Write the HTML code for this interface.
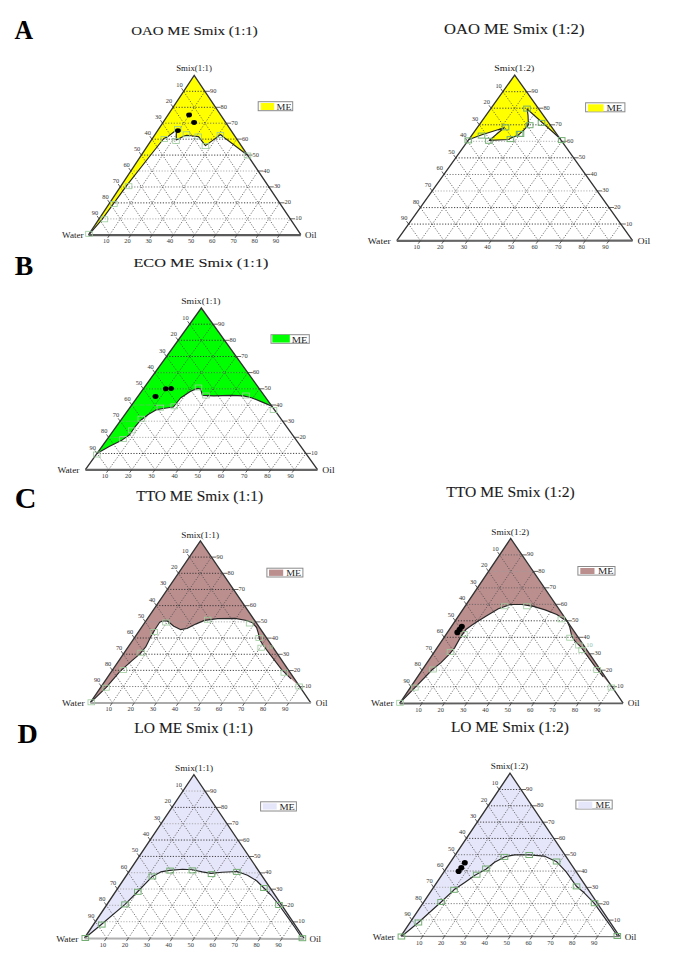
<!DOCTYPE html>
<html><head><meta charset="utf-8"><title>Ternary phase diagrams</title>
<style>
html,body{margin:0;padding:0;background:#fff;}
body{width:685px;height:965px;overflow:hidden;}
svg{display:block;}
text{font-family:"Liberation Serif",serif;fill:#1a1a1a;}
.tk{font-size:6.4px;fill:#333;}
.cl{fill:#222;}
.lg{font-size:10px;fill:#222;}
.ti{fill:#1a1a1a;stroke:#1a1a1a;stroke-width:0.12px;}
.le{font-weight:bold;fill:#000;}
</style></head>
<body>
<svg width="685" height="965" viewBox="0 0 685 965">
<rect width="685" height="965" fill="#fff"/>
<polygon points="194.2,75.4 247.3,155 224.8,138 220.4,134.5 215.1,138.6 205.5,145.6 198.5,136.6 195,136.2 191.2,135.8 186.8,135.3 184.2,136 176.3,140 176.3,131.6 175.4,130.8 167.5,136.9 163.8,138.5 150.7,155 127,185.2 112.6,204.9 102.1,219.3 89.6,233.8 88.5,234.8" fill="#ffff00" stroke="none"/>
<path d="M109.7,234.8L204.9,91.3M279.6,234.7L183.6,91.3M131,234.8L215.5,107.3M258.3,234.7L173.1,107.3M152.2,234.8L226.2,123.2M237.1,234.7L162.5,123.2M173.4,234.8L236.8,139.1M215.9,234.7L151.9,139.2M194.7,234.8L247.5,155.1M194.7,234.8L141.3,155.1M215.9,234.7L258.2,171M173.4,234.8L130.8,171M237.1,234.7L268.8,186.9M152.2,234.8L120.2,187M258.3,234.7L279.5,202.8M131,234.8L109.6,202.9M279.6,234.7L290.1,218.8M109.7,234.8L99.1,218.9" fill="none" stroke="#4a4a4a" stroke-width="0.8" stroke-dasharray="1.2 1.6"/>
<path d="M99.1,218.9L290.1,218.8M130.8,171L258.2,171" fill="none" stroke="#9a9a9a" stroke-width="0.8" stroke-dasharray="1.2 1.6"/>
<path d="M120.2,187L268.8,186.9M162.5,123.2L226.2,123.2" fill="none" stroke="#5c5c5c" stroke-width="0.8" stroke-dasharray="1.2 1.6"/>
<path d="M109.6,202.9L279.5,202.8M141.3,155.1L247.5,155.1M151.9,139.2L236.8,139.1M173.1,107.3L215.5,107.3M183.6,91.3L204.9,91.3" fill="none" stroke="#2e2e2e" stroke-width="0.9" stroke-dasharray="1.2 1.6"/>
<polyline points="247.3,155 224.8,138 220.4,134.5 215.1,138.6 205.5,145.6 198.5,136.6 195,136.2 191.2,135.8 186.8,135.3 184.2,136 176.3,140 176.3,131.6 175.4,130.8 167.5,136.9 163.8,138.5 150.7,155 127,185.2 112.6,204.9 102.1,219.3 89.6,233.8" fill="none" stroke="#262626" stroke-width="1.15" stroke-linejoin="round"/>
<path d="M88.5,234.8L194.2,75.4L300.8,234.7" fill="none" stroke="#333" stroke-width="1.35" stroke-linejoin="miter"/>
<path d="M88.5,235.2L300.8,235.1" fill="none" stroke="#5a5a5a" stroke-width="2.3"/>
<path d="M290.1,218.8L295.1,218.8M183.6,91.3L181.6,88.3M109.7,234.8L107.7,237.9M279.5,202.8L284.5,202.8M173.1,107.3L171.1,104.3M131,234.8L128.9,237.9M268.8,186.9L273.8,186.9M162.5,123.2L160.5,120.2M152.2,234.8L150.1,237.9M258.2,171L263.2,171M151.9,139.2L149.9,136.2M173.4,234.8L171.4,237.8M247.5,155.1L252.5,155.1M141.3,155.1L139.3,152.1M194.7,234.8L192.6,237.8M236.8,139.1L241.8,139.1M130.8,171L128.8,168M215.9,234.7L213.8,237.8M226.2,123.2L231.2,123.2M120.2,187L118.2,184M237.1,234.7L235.1,237.8M215.5,107.3L220.5,107.3M109.6,202.9L107.6,199.9M258.3,234.7L256.3,237.8M204.9,91.3L209.9,91.3M99.1,218.9L97.1,215.9M279.6,234.7L277.5,237.8" fill="none" stroke="#333" stroke-width="0.75"/>
<text transform="translate(295.2,220.3) scale(1,0.86)" text-anchor="start" class="tk">10</text>
<text transform="translate(179.4,87.2) scale(1,0.86)" text-anchor="middle" class="tk">10</text>
<text transform="translate(106.2,243.3) scale(1,0.86)" text-anchor="middle" class="tk">10</text>
<text transform="translate(284.6,204.3) scale(1,0.86)" text-anchor="start" class="tk">20</text>
<text transform="translate(168.9,103.2) scale(1,0.86)" text-anchor="middle" class="tk">20</text>
<text transform="translate(127.4,243.3) scale(1,0.86)" text-anchor="middle" class="tk">20</text>
<text transform="translate(273.9,188.4) scale(1,0.86)" text-anchor="start" class="tk">30</text>
<text transform="translate(158.3,119.1) scale(1,0.86)" text-anchor="middle" class="tk">30</text>
<text transform="translate(148.6,243.3) scale(1,0.86)" text-anchor="middle" class="tk">30</text>
<text transform="translate(263.3,172.5) scale(1,0.86)" text-anchor="start" class="tk">40</text>
<text transform="translate(147.7,135.1) scale(1,0.86)" text-anchor="middle" class="tk">40</text>
<text transform="translate(169.9,243.2) scale(1,0.86)" text-anchor="middle" class="tk">40</text>
<text transform="translate(252.6,156.6) scale(1,0.86)" text-anchor="start" class="tk">50</text>
<text transform="translate(137.1,151) scale(1,0.86)" text-anchor="middle" class="tk">50</text>
<text transform="translate(191.1,243.2) scale(1,0.86)" text-anchor="middle" class="tk">50</text>
<text transform="translate(241.9,140.6) scale(1,0.86)" text-anchor="start" class="tk">60</text>
<text transform="translate(126.6,166.9) scale(1,0.86)" text-anchor="middle" class="tk">60</text>
<text transform="translate(212.3,243.2) scale(1,0.86)" text-anchor="middle" class="tk">60</text>
<text transform="translate(231.3,124.7) scale(1,0.86)" text-anchor="start" class="tk">70</text>
<text transform="translate(116,182.9) scale(1,0.86)" text-anchor="middle" class="tk">70</text>
<text transform="translate(233.6,243.2) scale(1,0.86)" text-anchor="middle" class="tk">70</text>
<text transform="translate(220.6,108.8) scale(1,0.86)" text-anchor="start" class="tk">80</text>
<text transform="translate(105.4,198.8) scale(1,0.86)" text-anchor="middle" class="tk">80</text>
<text transform="translate(254.8,243.2) scale(1,0.86)" text-anchor="middle" class="tk">80</text>
<text transform="translate(210,92.8) scale(1,0.86)" text-anchor="start" class="tk">90</text>
<text transform="translate(94.9,214.8) scale(1,0.86)" text-anchor="middle" class="tk">90</text>
<text transform="translate(276,243.2) scale(1,0.86)" text-anchor="middle" class="tk">90</text>
<rect x="244.2" y="153" width="6.6" height="5" fill="none" stroke="#9ccb9c" stroke-width="0.8"/>
<rect x="217.1" y="132.4" width="6.6" height="5" fill="none" stroke="#9ccb9c" stroke-width="0.8"/>
<rect x="202.1" y="143.6" width="6.6" height="5" fill="none" stroke="#9ccb9c" stroke-width="0.8"/>
<rect x="194.9" y="134" width="6.6" height="5" fill="none" stroke="#9ccb9c" stroke-width="0.8"/>
<rect x="183.1" y="131.8" width="6.6" height="5" fill="none" stroke="#9ccb9c" stroke-width="0.8"/>
<rect x="172.7" y="138.5" width="6.6" height="5" fill="none" stroke="#9ccb9c" stroke-width="0.8"/>
<rect x="174.4" y="126.4" width="6.6" height="5" fill="none" stroke="#9ccb9c" stroke-width="0.8"/>
<rect x="161" y="136.5" width="6.6" height="5" fill="none" stroke="#9ccb9c" stroke-width="0.8"/>
<rect x="125.3" y="183.7" width="6.6" height="5" fill="none" stroke="#9ccb9c" stroke-width="0.8"/>
<rect x="110.6" y="201.4" width="6.6" height="5" fill="none" stroke="#9ccb9c" stroke-width="0.8"/>
<rect x="101.1" y="216.8" width="6.6" height="5" fill="none" stroke="#9ccb9c" stroke-width="0.8"/>
<rect x="85.7" y="231.3" width="6.6" height="5" fill="none" stroke="#9ccb9c" stroke-width="0.8"/>
<ellipse cx="177.9" cy="130.6" rx="2.9" ry="2.4" fill="#000"/>
<ellipse cx="194.1" cy="122.5" rx="2.9" ry="2.4" fill="#000"/>
<ellipse cx="189.1" cy="115" rx="2.9" ry="2.4" fill="#000"/>
<text transform="translate(62.1,238) scale(1,0.86)" class="cl" style="font-size:9.11px">Water</text>
<text transform="translate(305.1,238.1) scale(1,0.86)" class="cl" style="font-size:8.97px">Oil</text>
<text transform="translate(176.2,71.1) scale(1,0.86)" class="cl" style="font-size:8.82px">Smix(1:1)</text>
<rect x="258.2" y="101.7" width="34.5" height="9" fill="#fff" stroke="#8a8a8a" stroke-width="1"/>
<rect x="260.8" y="103" width="13.4" height="7" fill="#ffff00"/>
<text transform="translate(276.6,109.9) scale(1,0.86)" class="cl" style="font-size:9.96px">ME</text>
<polygon points="514.7,75.1 560.7,139.4 559,137.5 527.1,109 528,115.1 528.4,124.8 523.1,130.9 517.9,135.3 510,138.4 509,139.5 489.3,140.4 504.2,127.7 481.9,134.7 469,139.5" fill="#ffff00" stroke="none"/>
<path d="M420.4,240.7L526.5,91.7M609,240.6L502.9,91.7M444,240.7L538.3,108.2M585.4,240.6L491.1,108.2M467.5,240.7L550.1,124.8M561.9,240.6L479.3,124.8M491.1,240.7L561.9,141.3M538.3,240.6L467.5,141.3M514.7,240.6L573.7,157.8M514.7,240.6L455.8,157.9M538.3,240.6L585.4,174.4M491.1,240.7L444,174.5M561.9,240.6L597.2,190.9M467.5,240.7L432.2,191M585.4,240.6L609,207.5M444,240.7L420.4,207.6M609,240.6L620.8,224M420.4,240.7L408.6,224.1" fill="none" stroke="#4a4a4a" stroke-width="0.8" stroke-dasharray="1.2 1.6"/>
<path d="M432.2,191L597.2,190.9M467.5,141.3L561.9,141.3" fill="none" stroke="#9a9a9a" stroke-width="0.8" stroke-dasharray="1.2 1.6"/>
<path d="M444,174.5L585.4,174.4" fill="none" stroke="#5c5c5c" stroke-width="0.8" stroke-dasharray="1.2 1.6"/>
<path d="M408.6,224.1L620.8,224M420.4,207.6L609,207.5M455.8,157.9L573.7,157.8M479.3,124.8L550.1,124.8M491.1,108.2L538.3,108.2M502.9,91.7L526.5,91.7" fill="none" stroke="#2e2e2e" stroke-width="0.9" stroke-dasharray="1.2 1.6"/>
<polyline points="560.7,139.4 559,137.5 527.1,109 528,115.1 528.4,124.8 523.1,130.9 517.9,135.3 510,138.4 509,139.5 489.3,140.4 504.2,127.7 481.9,134.7 469,139.5" fill="none" stroke="#262626" stroke-width="1.15" stroke-linejoin="round"/>
<path d="M396.8,240.7L514.7,75.1L632.6,240.6" fill="none" stroke="#333" stroke-width="1.35" stroke-linejoin="miter"/>
<path d="M396.8,240.8L632.6,240.7" fill="none" stroke="#666" stroke-width="2.2"/>
<path d="M620.8,224L625.8,224M502.9,91.7L500.8,88.7M420.4,240.7L418.2,243.7M609,207.5L614,207.5M491.1,108.2L489,105.3M444,240.7L441.8,243.7M597.2,190.9L602.2,190.9M479.3,124.8L477.2,121.8M467.5,240.7L465.4,243.7M585.4,174.4L590.4,174.4M467.5,141.3L465.5,138.4M491.1,240.7L489,243.7M573.7,157.8L578.7,157.8M455.8,157.9L453.7,155M514.7,240.6L512.6,243.7M561.9,141.3L566.9,141.3M444,174.5L441.9,171.5M538.3,240.6L536.1,243.7M550.1,124.8L555.1,124.8M432.2,191L430.1,188.1M561.9,240.6L559.7,243.6M538.3,108.2L543.3,108.2M420.4,207.6L418.3,204.6M585.4,240.6L583.3,243.6M526.5,91.7L531.5,91.7M408.6,224.1L406.5,221.2M609,240.6L606.9,243.6" fill="none" stroke="#333" stroke-width="0.75"/>
<text transform="translate(625.9,225.5) scale(1,0.86)" text-anchor="start" class="tk">10</text>
<text transform="translate(498.6,87.6) scale(1,0.86)" text-anchor="middle" class="tk">10</text>
<text transform="translate(416.7,249.1) scale(1,0.86)" text-anchor="middle" class="tk">10</text>
<text transform="translate(614.1,209) scale(1,0.86)" text-anchor="start" class="tk">20</text>
<text transform="translate(486.8,104.2) scale(1,0.86)" text-anchor="middle" class="tk">20</text>
<text transform="translate(440.3,249.1) scale(1,0.86)" text-anchor="middle" class="tk">20</text>
<text transform="translate(602.3,192.4) scale(1,0.86)" text-anchor="start" class="tk">30</text>
<text transform="translate(475,120.7) scale(1,0.86)" text-anchor="middle" class="tk">30</text>
<text transform="translate(463.9,249.1) scale(1,0.86)" text-anchor="middle" class="tk">30</text>
<text transform="translate(590.5,175.9) scale(1,0.86)" text-anchor="start" class="tk">40</text>
<text transform="translate(463.3,137.3) scale(1,0.86)" text-anchor="middle" class="tk">40</text>
<text transform="translate(487.5,249.1) scale(1,0.86)" text-anchor="middle" class="tk">40</text>
<text transform="translate(578.8,159.3) scale(1,0.86)" text-anchor="start" class="tk">50</text>
<text transform="translate(451.5,153.9) scale(1,0.86)" text-anchor="middle" class="tk">50</text>
<text transform="translate(511.1,249.1) scale(1,0.86)" text-anchor="middle" class="tk">50</text>
<text transform="translate(567,142.8) scale(1,0.86)" text-anchor="start" class="tk">60</text>
<text transform="translate(439.7,170.4) scale(1,0.86)" text-anchor="middle" class="tk">60</text>
<text transform="translate(534.6,249.1) scale(1,0.86)" text-anchor="middle" class="tk">60</text>
<text transform="translate(555.2,126.2) scale(1,0.86)" text-anchor="start" class="tk">70</text>
<text transform="translate(427.9,187) scale(1,0.86)" text-anchor="middle" class="tk">70</text>
<text transform="translate(558.2,249) scale(1,0.86)" text-anchor="middle" class="tk">70</text>
<text transform="translate(543.4,109.7) scale(1,0.86)" text-anchor="start" class="tk">80</text>
<text transform="translate(416.1,203.5) scale(1,0.86)" text-anchor="middle" class="tk">80</text>
<text transform="translate(581.8,249) scale(1,0.86)" text-anchor="middle" class="tk">80</text>
<text transform="translate(531.6,93.2) scale(1,0.86)" text-anchor="start" class="tk">90</text>
<text transform="translate(404.3,220.1) scale(1,0.86)" text-anchor="middle" class="tk">90</text>
<text transform="translate(605.4,249) scale(1,0.86)" text-anchor="middle" class="tk">90</text>
<rect x="465" y="137.9" width="6.6" height="5" fill="none" stroke="#74ae74" stroke-width="1"/>
<rect x="478.2" y="133.1" width="6.6" height="5" fill="none" stroke="#74ae74" stroke-width="1"/>
<rect x="485.6" y="138.3" width="6.6" height="5" fill="none" stroke="#74ae74" stroke-width="1"/>
<rect x="502.2" y="124.8" width="6.6" height="5" fill="none" stroke="#74ae74" stroke-width="1"/>
<rect x="507.1" y="136.6" width="6.6" height="5" fill="none" stroke="#74ae74" stroke-width="1"/>
<rect x="516.3" y="131.3" width="6.6" height="5" fill="none" stroke="#74ae74" stroke-width="1"/>
<rect x="523.7" y="106.1" width="6.6" height="5" fill="none" stroke="#74ae74" stroke-width="1"/>
<rect x="526.4" y="122.7" width="6.6" height="5" fill="none" stroke="#74ae74" stroke-width="1"/>
<rect x="538.2" y="120.4" width="6.6" height="5" fill="none" stroke="#74ae74" stroke-width="1"/>
<rect x="517.2" y="131.5" width="6.6" height="5" fill="none" stroke="#74ae74" stroke-width="1"/>
<rect x="558.4" y="137.6" width="6.6" height="5" fill="none" stroke="#74ae74" stroke-width="1"/>
<text transform="translate(367.7,244.3) scale(1,0.86)" class="cl" style="font-size:9.74px">Water</text>
<text transform="translate(637.6,244) scale(1,0.86)" class="cl" style="font-size:9.88px">Oil</text>
<text transform="translate(494.2,71.2) scale(1,0.86)" class="cl" style="font-size:9.89px">Smix(1:2)</text>
<rect x="585.6" y="102.8" width="39.3" height="9" fill="#fff" stroke="#8a8a8a" stroke-width="1"/>
<rect x="587.9" y="104.3" width="15.6" height="7.2" fill="#ffff00"/>
<text transform="translate(606.4,111) scale(1,0.86)" class="cl" style="font-size:10.60px">ME</text>
<polygon points="201.3,308 272.5,406.5 262.9,402.4 252.3,398 243.6,395.9 231.3,395.4 213.8,395.9 202.4,395.4 200.7,389.3 198,388.4 191,391 180.5,398 173.4,407 163.2,408.5 155.9,409.9 148.6,414.3 139.9,420.9 134,428.2 129.6,434.7 122.3,439.9 109.2,446.4 96.9,453.6" fill="#00ff00" stroke="none"/>
<path d="M108.6,469.7L212.9,324.2M294.3,469.6L189.7,324.2M131.8,469.7L224.5,340.3M271.1,469.6L178.1,340.3M155,469.7L236.2,356.5M247.9,469.6L166.5,356.5M178.2,469.7L247.8,372.6M224.7,469.6L154.9,372.7M201.4,469.6L259.4,388.8M201.4,469.6L143.4,388.9M224.7,469.6L271,405M178.2,469.7L131.8,405M247.9,469.6L282.6,421.1M155,469.7L120.2,421.2M271.1,469.6L294.3,437.3M131.8,469.7L108.6,437.4M294.3,469.6L305.9,453.4M108.6,469.7L97,453.5" fill="none" stroke="#4a4a4a" stroke-width="0.8" stroke-dasharray="1.2 1.6"/>
<path d="M108.6,437.4L294.3,437.3M120.2,421.2L282.6,421.1M131.8,405L271,405" fill="none" stroke="#9a9a9a" stroke-width="0.8" stroke-dasharray="1.2 1.6"/>
<path d="M143.4,388.9L259.4,388.8M154.9,372.7L247.8,372.6" fill="none" stroke="#5c5c5c" stroke-width="0.8" stroke-dasharray="1.2 1.6"/>
<path d="M97,453.5L305.9,453.4M166.5,356.5L236.2,356.5M178.1,340.3L224.5,340.3M189.7,324.2L212.9,324.2" fill="none" stroke="#2e2e2e" stroke-width="0.9" stroke-dasharray="1.2 1.6"/>
<polyline points="272.5,406.5 262.9,402.4 252.3,398 243.6,395.9 231.3,395.4 213.8,395.9 202.4,395.4 200.7,389.3 198,388.4 191,391 180.5,398 173.4,407 163.2,408.5 155.9,409.9 148.6,414.3 139.9,420.9 134,428.2 129.6,434.7 122.3,439.9 109.2,446.4 96.9,453.6" fill="none" stroke="#262626" stroke-width="1.15" stroke-linejoin="round"/>
<path d="M85.4,469.7L201.3,308L317.5,469.6" fill="none" stroke="#333" stroke-width="1.35" stroke-linejoin="miter"/>
<path d="M85.4,469.9L317.5,469.8" fill="none" stroke="#666" stroke-width="2.3"/>
<path d="M305.9,453.4L310.9,453.4M189.7,324.2L187.6,321.2M108.6,469.7L106.5,472.7M294.3,437.3L299.3,437.3M178.1,340.3L176,337.4M131.8,469.7L129.7,472.7M282.6,421.1L287.6,421.1M166.5,356.5L164.4,353.6M155,469.7L152.9,472.7M271,405L276,405M154.9,372.7L152.8,369.8M178.2,469.7L176.1,472.7M259.4,388.8L264.4,388.8M143.4,388.9L141.2,385.9M201.4,469.6L199.3,472.7M247.8,372.6L252.8,372.6M131.8,405L129.7,402.1M224.7,469.6L222.5,472.6M236.2,356.5L241.2,356.5M120.2,421.2L118.1,418.3M247.9,469.6L245.7,472.6M224.5,340.3L229.5,340.3M108.6,437.4L106.5,434.4M271.1,469.6L268.9,472.6M212.9,324.2L217.9,324.2M97,453.5L94.9,450.6M294.3,469.6L292.1,472.6" fill="none" stroke="#333" stroke-width="0.75"/>
<text transform="translate(311,454.9) scale(1,0.86)" text-anchor="start" class="tk">10</text>
<text transform="translate(185.4,320.1) scale(1,0.86)" text-anchor="middle" class="tk">10</text>
<text transform="translate(105,478.1) scale(1,0.86)" text-anchor="middle" class="tk">10</text>
<text transform="translate(299.4,438.8) scale(1,0.86)" text-anchor="start" class="tk">20</text>
<text transform="translate(173.8,336.3) scale(1,0.86)" text-anchor="middle" class="tk">20</text>
<text transform="translate(128.2,478.1) scale(1,0.86)" text-anchor="middle" class="tk">20</text>
<text transform="translate(287.7,422.6) scale(1,0.86)" text-anchor="start" class="tk">30</text>
<text transform="translate(162.2,352.5) scale(1,0.86)" text-anchor="middle" class="tk">30</text>
<text transform="translate(151.4,478.1) scale(1,0.86)" text-anchor="middle" class="tk">30</text>
<text transform="translate(276.1,406.5) scale(1,0.86)" text-anchor="start" class="tk">40</text>
<text transform="translate(150.6,368.7) scale(1,0.86)" text-anchor="middle" class="tk">40</text>
<text transform="translate(174.6,478.1) scale(1,0.86)" text-anchor="middle" class="tk">40</text>
<text transform="translate(264.5,390.3) scale(1,0.86)" text-anchor="start" class="tk">50</text>
<text transform="translate(139,384.8) scale(1,0.86)" text-anchor="middle" class="tk">50</text>
<text transform="translate(197.8,478.1) scale(1,0.86)" text-anchor="middle" class="tk">50</text>
<text transform="translate(252.9,374.1) scale(1,0.86)" text-anchor="start" class="tk">60</text>
<text transform="translate(127.5,401) scale(1,0.86)" text-anchor="middle" class="tk">60</text>
<text transform="translate(221,478) scale(1,0.86)" text-anchor="middle" class="tk">60</text>
<text transform="translate(241.3,358) scale(1,0.86)" text-anchor="start" class="tk">70</text>
<text transform="translate(115.9,417.2) scale(1,0.86)" text-anchor="middle" class="tk">70</text>
<text transform="translate(244.2,478) scale(1,0.86)" text-anchor="middle" class="tk">70</text>
<text transform="translate(229.6,341.8) scale(1,0.86)" text-anchor="start" class="tk">80</text>
<text transform="translate(104.3,433.3) scale(1,0.86)" text-anchor="middle" class="tk">80</text>
<text transform="translate(267.4,478) scale(1,0.86)" text-anchor="middle" class="tk">80</text>
<text transform="translate(218,325.7) scale(1,0.86)" text-anchor="start" class="tk">90</text>
<text transform="translate(92.7,449.5) scale(1,0.86)" text-anchor="middle" class="tk">90</text>
<text transform="translate(290.6,478) scale(1,0.86)" text-anchor="middle" class="tk">90</text>
<rect x="93.5" y="452" width="6.6" height="5" fill="none" stroke="#9ccb9c" stroke-width="0.8"/>
<rect x="119.7" y="436.6" width="6.6" height="5" fill="none" stroke="#9ccb9c" stroke-width="0.8"/>
<rect x="128.5" y="427.9" width="6.6" height="5" fill="none" stroke="#9ccb9c" stroke-width="0.8"/>
<rect x="138" y="416.2" width="6.6" height="5" fill="none" stroke="#9ccb9c" stroke-width="0.8"/>
<rect x="157" y="405.2" width="6.6" height="5" fill="none" stroke="#9ccb9c" stroke-width="0.8"/>
<rect x="170.9" y="403.8" width="6.6" height="5" fill="none" stroke="#9ccb9c" stroke-width="0.8"/>
<rect x="195.2" y="385" width="6.6" height="5" fill="none" stroke="#9ccb9c" stroke-width="0.8"/>
<rect x="202.7" y="393" width="6.6" height="5" fill="none" stroke="#9ccb9c" stroke-width="0.8"/>
<rect x="242.7" y="393" width="6.6" height="5" fill="none" stroke="#9ccb9c" stroke-width="0.8"/>
<rect x="270.2" y="407.5" width="6.6" height="5" fill="none" stroke="#9ccb9c" stroke-width="0.8"/>
<ellipse cx="155.5" cy="396.5" rx="3" ry="2.4" fill="#000"/>
<ellipse cx="165.7" cy="388.7" rx="2.8" ry="2.5" fill="#000"/>
<ellipse cx="171.1" cy="388.5" rx="2.8" ry="2.5" fill="#000"/>
<text transform="translate(57.4,472.6) scale(1,0.86)" class="cl" style="font-size:9.36px">Water</text>
<text transform="translate(322.3,472.6) scale(1,0.86)" class="cl" style="font-size:9.63px">Oil</text>
<text transform="translate(181.2,303.6) scale(1,0.86)" class="cl" style="font-size:9.73px">Smix(1:1)</text>
<rect x="271" y="334.7" width="38.3" height="8.6" fill="#fff" stroke="#8a8a8a" stroke-width="1"/>
<rect x="272.3" y="334.8" width="17.5" height="7.7" fill="#00ff00"/>
<text transform="translate(291.8,342.5) scale(1,0.86)" class="cl" style="font-size:10.46px">ME</text>
<polygon points="200.4,540.9 299.8,686.7 291.1,678.9 281.7,669.6 270,654.4 263,645 259.5,639.2 258.4,633.4 256.6,627.5 252.5,622.8 246.7,620.5 235,618.4 217.6,618.6 204.4,620.4 195.7,624.1 186.9,628.5 180.4,629.6 173.8,626.3 167.2,620.8 162.5,621 159.7,622.3 155.1,629.3 150.4,637.5 145.7,646.9 139.9,653.9 131.7,660.9 120,671.4 106,687.7 90.8,702.3 90.3,702.7" fill="#bc8f8f" stroke="none"/>
<path d="M112.3,702.7L211.4,557.1M288.8,702.9L189.4,557.1M134.4,702.7L222.5,573.3M266.7,702.9L178.4,573.3M156.4,702.8L233.5,589.5M244.6,702.8L167.4,589.4M178.5,702.8L244.6,605.7M222.6,702.8L156.4,605.6M200.6,702.8L255.6,621.9M200.6,702.8L145.3,621.8M222.6,702.8L266.6,638.1M178.5,702.8L134.3,638M244.6,702.8L277.7,654.3M156.4,702.8L123.3,654.2M266.7,702.9L288.7,670.5M134.4,702.7L112.3,670.3M288.8,702.9L299.8,686.7M112.3,702.7L101.3,686.5" fill="none" stroke="#4a4a4a" stroke-width="0.8" stroke-dasharray="1.2 1.6"/>
<path d="M145.3,621.8L255.6,621.9" fill="none" stroke="#9a9a9a" stroke-width="0.8" stroke-dasharray="1.2 1.6"/>
<path d="M101.3,686.5L299.8,686.7" fill="none" stroke="#5c5c5c" stroke-width="0.8" stroke-dasharray="1.2 1.6"/>
<path d="M112.3,670.3L288.7,670.5M123.3,654.2L277.7,654.3M134.3,638L266.6,638.1M156.4,605.6L244.6,605.7M167.4,589.4L233.5,589.5M178.4,573.3L222.5,573.3M189.4,557.1L211.4,557.1" fill="none" stroke="#2e2e2e" stroke-width="0.9" stroke-dasharray="1.2 1.6"/>
<polyline points="291.1,678.9 281.7,669.6 270,654.4 263,645 259.5,639.2 258.4,633.4 256.6,627.5 252.5,622.8 246.7,620.5 235,618.4 217.6,618.6 204.4,620.4 195.7,624.1 186.9,628.5 180.4,629.6 173.8,626.3 167.2,620.8 162.5,621 159.7,622.3 155.1,629.3 150.4,637.5 145.7,646.9 139.9,653.9 131.7,660.9 120,671.4 106,687.7 90.8,702.3" fill="none" stroke="#262626" stroke-width="1.15" stroke-linejoin="round"/>
<path d="M90.3,702.7L200.4,540.9L310.8,702.9" fill="none" stroke="#333" stroke-width="1.35" stroke-linejoin="miter"/>
<path d="M90.3,702.9L310.8,703.1" fill="none" stroke="#aaa" stroke-width="2"/>
<path d="M299.8,686.7L304.8,686.7M189.4,557.1L187.4,554.1M112.3,702.7L110.3,705.8M288.7,670.5L293.7,670.5M178.4,573.3L176.4,570.3M134.4,702.7L132.3,705.8M277.7,654.3L282.7,654.3M167.4,589.4L165.3,586.5M156.4,702.8L154.4,705.8M266.6,638.1L271.6,638.1M156.4,605.6L154.3,602.6M178.5,702.8L176.4,705.8M255.6,621.9L260.6,621.9M145.3,621.8L143.3,618.8M200.6,702.8L198.5,705.9M244.6,605.7L249.6,605.7M134.3,638L132.3,635M222.6,702.8L220.5,705.9M233.5,589.5L238.5,589.5M123.3,654.2L121.3,651.2M244.6,702.8L242.6,705.9M222.5,573.3L227.5,573.3M112.3,670.3L110.3,667.4M266.7,702.9L264.6,705.9M211.4,557.1L216.4,557.1M101.3,686.5L99.3,683.5M288.8,702.9L286.7,705.9" fill="none" stroke="#333" stroke-width="0.75"/>
<text transform="translate(304.9,688.2) scale(1,0.86)" text-anchor="start" class="tk">10</text>
<text transform="translate(185.2,553) scale(1,0.86)" text-anchor="middle" class="tk">10</text>
<text transform="translate(108.8,711.2) scale(1,0.86)" text-anchor="middle" class="tk">10</text>
<text transform="translate(293.8,672) scale(1,0.86)" text-anchor="start" class="tk">20</text>
<text transform="translate(174.2,569.2) scale(1,0.86)" text-anchor="middle" class="tk">20</text>
<text transform="translate(130.8,711.2) scale(1,0.86)" text-anchor="middle" class="tk">20</text>
<text transform="translate(282.8,655.8) scale(1,0.86)" text-anchor="start" class="tk">30</text>
<text transform="translate(163.1,585.4) scale(1,0.86)" text-anchor="middle" class="tk">30</text>
<text transform="translate(152.9,711.2) scale(1,0.86)" text-anchor="middle" class="tk">30</text>
<text transform="translate(271.7,639.6) scale(1,0.86)" text-anchor="start" class="tk">40</text>
<text transform="translate(152.1,601.5) scale(1,0.86)" text-anchor="middle" class="tk">40</text>
<text transform="translate(174.9,711.2) scale(1,0.86)" text-anchor="middle" class="tk">40</text>
<text transform="translate(260.7,623.4) scale(1,0.86)" text-anchor="start" class="tk">50</text>
<text transform="translate(141.1,617.7) scale(1,0.86)" text-anchor="middle" class="tk">50</text>
<text transform="translate(197,711.3) scale(1,0.86)" text-anchor="middle" class="tk">50</text>
<text transform="translate(249.7,607.2) scale(1,0.86)" text-anchor="start" class="tk">60</text>
<text transform="translate(130.1,633.9) scale(1,0.86)" text-anchor="middle" class="tk">60</text>
<text transform="translate(219,711.3) scale(1,0.86)" text-anchor="middle" class="tk">60</text>
<text transform="translate(238.6,591) scale(1,0.86)" text-anchor="start" class="tk">70</text>
<text transform="translate(119.1,650.1) scale(1,0.86)" text-anchor="middle" class="tk">70</text>
<text transform="translate(241.1,711.3) scale(1,0.86)" text-anchor="middle" class="tk">70</text>
<text transform="translate(227.6,574.8) scale(1,0.86)" text-anchor="start" class="tk">80</text>
<text transform="translate(108.1,666.3) scale(1,0.86)" text-anchor="middle" class="tk">80</text>
<text transform="translate(263.1,711.3) scale(1,0.86)" text-anchor="middle" class="tk">80</text>
<text transform="translate(216.5,558.6) scale(1,0.86)" text-anchor="start" class="tk">90</text>
<text transform="translate(97.1,682.4) scale(1,0.86)" text-anchor="middle" class="tk">90</text>
<text transform="translate(285.2,711.3) scale(1,0.86)" text-anchor="middle" class="tk">90</text>
<rect x="88" y="699.8" width="6.6" height="5" fill="none" stroke="#9ccb9c" stroke-width="0.8"/>
<rect x="102.7" y="685.2" width="6.6" height="5" fill="none" stroke="#9ccb9c" stroke-width="0.8"/>
<rect x="120" y="667.4" width="6.6" height="5" fill="none" stroke="#9ccb9c" stroke-width="0.8"/>
<rect x="137.8" y="650.2" width="6.6" height="5" fill="none" stroke="#9ccb9c" stroke-width="0.8"/>
<rect x="150.9" y="629.5" width="6.6" height="5" fill="none" stroke="#9ccb9c" stroke-width="0.8"/>
<rect x="162.7" y="620" width="6.6" height="5" fill="none" stroke="#9ccb9c" stroke-width="0.8"/>
<rect x="204.4" y="617.2" width="6.6" height="5" fill="none" stroke="#9ccb9c" stroke-width="0.8"/>
<rect x="246.3" y="621" width="6.6" height="5" fill="none" stroke="#9ccb9c" stroke-width="0.8"/>
<rect x="255.9" y="635.5" width="6.6" height="5" fill="none" stroke="#9ccb9c" stroke-width="0.8"/>
<rect x="257.9" y="645.2" width="6.6" height="5" fill="none" stroke="#9ccb9c" stroke-width="0.8"/>
<rect x="281" y="670.2" width="6.6" height="5" fill="none" stroke="#9ccb9c" stroke-width="0.8"/>
<rect x="295.9" y="684" width="6.6" height="5" fill="none" stroke="#9ccb9c" stroke-width="0.8"/>
<text transform="translate(62.1,705.6) scale(1,0.86)" class="cl" style="font-size:9.57px">Water</text>
<text transform="translate(315.8,705.5) scale(1,0.86)" class="cl" style="font-size:9.14px">Oil</text>
<text transform="translate(181.2,538.3) scale(1,0.86)" class="cl" style="font-size:9.33px">Smix(1:1)</text>
<rect x="266.9" y="568.2" width="36" height="8.8" fill="#fff" stroke="#8a8a8a" stroke-width="1"/>
<rect x="269" y="569.6" width="14.2" height="6.3" fill="#bc8f8f"/>
<text transform="translate(286.2,576.2) scale(1,0.86)" class="cl" style="font-size:9.96px">ME</text>
<polygon points="510.7,538.4 611.9,686.7 603.3,676.9 594.6,665.8 581,647.2 574.8,640.9 571.7,636 569.8,627.3 566.8,620.6 563.8,619.2 556.8,614.5 545.1,609.9 533.4,606.4 521.8,604.5 510.1,604.5 498.4,608.7 486.7,615.7 477.4,621.5 472.1,625.1 466.2,629.2 460.4,637.4 454.6,647.9 448.7,654.9 440.5,663.1 432.4,669.5 414.9,687.6 399.9,702.8 399.7,703.3" fill="#bc8f8f" stroke="none"/>
<path d="M422,703.3L521.9,554.9M600.8,703.2L499.6,554.9M444.4,703.3L533.2,571.4M578.4,703.2L488.5,571.4M466.7,703.3L544.4,587.8M556.1,703.2L477.4,587.9M489.1,703.3L555.7,604.3M533.7,703.2L466.3,604.4M511.4,703.2L566.9,620.8M511.4,703.2L455.2,620.8M533.7,703.2L578.1,637.3M489.1,703.3L444.1,637.3M556.1,703.2L589.4,653.8M466.7,703.3L433,653.8M578.4,703.2L600.6,670.2M444.4,703.3L421.9,670.3M600.8,703.2L611.9,686.7M422,703.3L410.8,686.8" fill="none" stroke="#4a4a4a" stroke-width="0.8" stroke-dasharray="1.2 1.6"/>
<path d="M421.9,670.3L600.6,670.2M433,653.8L589.4,653.8M488.5,571.4L533.2,571.4" fill="none" stroke="#9a9a9a" stroke-width="0.8" stroke-dasharray="1.2 1.6"/>
<path d="M410.8,686.8L611.9,686.7M466.3,604.4L555.7,604.3M477.4,587.9L544.4,587.8M499.6,554.9L521.9,554.9" fill="none" stroke="#5c5c5c" stroke-width="0.8" stroke-dasharray="1.2 1.6"/>
<path d="M444.1,637.3L578.1,637.3M455.2,620.8L566.9,620.8" fill="none" stroke="#2e2e2e" stroke-width="0.9" stroke-dasharray="1.2 1.6"/>
<polyline points="603.3,676.9 594.6,665.8 581,647.2 574.8,640.9 571.7,636 569.8,627.3 566.8,620.6 563.8,619.2 556.8,614.5 545.1,609.9 533.4,606.4 521.8,604.5 510.1,604.5 498.4,608.7 486.7,615.7 477.4,621.5 472.1,625.1 466.2,629.2 460.4,637.4 454.6,647.9 448.7,654.9 440.5,663.1 432.4,669.5 414.9,687.6 399.9,702.8" fill="none" stroke="#262626" stroke-width="1.15" stroke-linejoin="round"/>
<path d="M399.7,703.3L510.7,538.4L623.1,703.2" fill="none" stroke="#333" stroke-width="1.35" stroke-linejoin="miter"/>
<path d="M399.7,703.5L623.1,703.4" fill="none" stroke="#5e5e5e" stroke-width="1.8"/>
<path d="M611.9,686.7L616.9,686.7M499.6,554.9L497.6,551.9M422,703.3L420,706.4M600.6,670.2L605.6,670.2M488.5,571.4L486.5,568.4M444.4,703.3L442.3,706.3M589.4,653.8L594.4,653.8M477.4,587.9L475.4,584.9M466.7,703.3L464.7,706.3M578.1,637.3L583.1,637.3M466.3,604.4L464.3,601.4M489.1,703.3L487,706.3M566.9,620.8L571.9,620.8M455.2,620.8L453.2,617.9M511.4,703.2L509.3,706.3M555.7,604.3L560.7,604.3M444.1,637.3L442.1,634.4M533.7,703.2L531.7,706.3M544.4,587.8L549.4,587.8M433,653.8L431,650.9M556.1,703.2L554,706.3M533.2,571.4L538.2,571.4M421.9,670.3L419.9,667.3M578.4,703.2L576.4,706.3M521.9,554.9L526.9,554.9M410.8,686.8L408.8,683.8M600.8,703.2L598.7,706.3" fill="none" stroke="#333" stroke-width="0.75"/>
<text transform="translate(617,688.2) scale(1,0.86)" text-anchor="start" class="tk">10</text>
<text transform="translate(495.4,550.8) scale(1,0.86)" text-anchor="middle" class="tk">10</text>
<text transform="translate(418.5,711.8) scale(1,0.86)" text-anchor="middle" class="tk">10</text>
<text transform="translate(605.7,671.7) scale(1,0.86)" text-anchor="start" class="tk">20</text>
<text transform="translate(484.3,567.3) scale(1,0.86)" text-anchor="middle" class="tk">20</text>
<text transform="translate(440.8,711.7) scale(1,0.86)" text-anchor="middle" class="tk">20</text>
<text transform="translate(594.5,655.3) scale(1,0.86)" text-anchor="start" class="tk">30</text>
<text transform="translate(473.2,583.8) scale(1,0.86)" text-anchor="middle" class="tk">30</text>
<text transform="translate(463.2,711.7) scale(1,0.86)" text-anchor="middle" class="tk">30</text>
<text transform="translate(583.2,638.8) scale(1,0.86)" text-anchor="start" class="tk">40</text>
<text transform="translate(462.1,600.3) scale(1,0.86)" text-anchor="middle" class="tk">40</text>
<text transform="translate(485.5,711.7) scale(1,0.86)" text-anchor="middle" class="tk">40</text>
<text transform="translate(572,622.3) scale(1,0.86)" text-anchor="start" class="tk">50</text>
<text transform="translate(451,616.8) scale(1,0.86)" text-anchor="middle" class="tk">50</text>
<text transform="translate(507.8,711.7) scale(1,0.86)" text-anchor="middle" class="tk">50</text>
<text transform="translate(560.8,605.8) scale(1,0.86)" text-anchor="start" class="tk">60</text>
<text transform="translate(439.9,633.3) scale(1,0.86)" text-anchor="middle" class="tk">60</text>
<text transform="translate(530.2,711.7) scale(1,0.86)" text-anchor="middle" class="tk">60</text>
<text transform="translate(549.5,589.3) scale(1,0.86)" text-anchor="start" class="tk">70</text>
<text transform="translate(428.8,649.8) scale(1,0.86)" text-anchor="middle" class="tk">70</text>
<text transform="translate(552.5,711.7) scale(1,0.86)" text-anchor="middle" class="tk">70</text>
<text transform="translate(538.3,572.9) scale(1,0.86)" text-anchor="start" class="tk">80</text>
<text transform="translate(417.7,666.2) scale(1,0.86)" text-anchor="middle" class="tk">80</text>
<text transform="translate(574.9,711.7) scale(1,0.86)" text-anchor="middle" class="tk">80</text>
<text transform="translate(527,556.4) scale(1,0.86)" text-anchor="start" class="tk">90</text>
<text transform="translate(406.6,682.7) scale(1,0.86)" text-anchor="middle" class="tk">90</text>
<text transform="translate(597.2,711.7) scale(1,0.86)" text-anchor="middle" class="tk">90</text>
<rect x="396.7" y="700.3" width="6.6" height="5" fill="none" stroke="#9ccb9c" stroke-width="0.8"/>
<rect x="411.6" y="685.1" width="6.6" height="5" fill="none" stroke="#9ccb9c" stroke-width="0.8"/>
<rect x="429.7" y="667" width="6.6" height="5" fill="none" stroke="#9ccb9c" stroke-width="0.8"/>
<rect x="447.2" y="649.5" width="6.6" height="5" fill="none" stroke="#9ccb9c" stroke-width="0.8"/>
<rect x="460.6" y="631.6" width="6.6" height="5" fill="none" stroke="#9ccb9c" stroke-width="0.8"/>
<rect x="501.4" y="603.8" width="6.6" height="5" fill="none" stroke="#9ccb9c" stroke-width="0.8"/>
<rect x="523.7" y="603.8" width="6.6" height="5" fill="none" stroke="#9ccb9c" stroke-width="0.8"/>
<rect x="558" y="616.8" width="6.6" height="5" fill="none" stroke="#9ccb9c" stroke-width="0.8"/>
<rect x="566.7" y="635.2" width="6.6" height="5" fill="none" stroke="#9ccb9c" stroke-width="0.8"/>
<rect x="575.7" y="643" width="6.6" height="5" fill="none" stroke="#9ccb9c" stroke-width="0.8"/>
<rect x="578.8" y="647.6" width="6.6" height="5" fill="none" stroke="#9ccb9c" stroke-width="0.8"/>
<rect x="593.8" y="667.6" width="6.6" height="5" fill="none" stroke="#9ccb9c" stroke-width="0.8"/>
<rect x="608.1" y="685" width="6.6" height="5" fill="none" stroke="#9ccb9c" stroke-width="0.8"/>
<ellipse cx="461.8" cy="626.6" rx="3" ry="2.8" fill="#000"/>
<ellipse cx="459.6" cy="629.5" rx="3" ry="2.8" fill="#000"/>
<ellipse cx="457.4" cy="632.4" rx="3" ry="2.8" fill="#000"/>
<text transform="translate(371.1,706.2) scale(1,0.86)" class="cl" style="font-size:9.53px">Water</text>
<text transform="translate(627.8,706.1) scale(1,0.86)" class="cl" style="font-size:9.22px">Oil</text>
<text transform="translate(491.2,534.5) scale(1,0.86)" class="cl" style="font-size:9.33px">Smix(1:2)</text>
<rect x="577.9" y="566.5" width="37.1" height="8.6" fill="#fff" stroke="#8a8a8a" stroke-width="1"/>
<rect x="580.3" y="568" width="14.2" height="6" fill="#bc8f8f"/>
<text transform="translate(598,574.3) scale(1,0.86)" class="cl" style="font-size:10.39px">ME</text>
<polygon points="193.9,774.7 304.1,938.3 301.4,937.3 294.6,927 287.9,917.4 279,905 270.9,895 263.9,888 256.9,881 247.5,875.2 237.3,871.5 222,872.3 211,873.4 202.3,871.9 192.4,869.7 182.6,869.3 169.4,870.4 160.7,871.9 152.4,876.4 137.8,891.5 125,904.4 101.6,924.2 85.3,937.7 84.5,938" fill="#e6e6fa" stroke="none"/>
<path d="M106.5,938L204.9,791.1M282.1,938.3L183,791M128.4,938.1L215.9,807.4M260.2,938.2L172,807.4M150.4,938.1L227,823.8M238.2,938.2L161.1,823.7M172.3,938.1L238,840.1M216.3,938.2L150.1,840M194.3,938.1L249,856.5M194.3,938.1L139.2,856.4M216.3,938.2L260,872.9M172.3,938.1L128.3,872.7M238.2,938.2L271,889.2M150.4,938.1L117.3,889M260.2,938.2L282.1,905.6M128.4,938.1L106.4,905.3M282.1,938.3L293.1,921.9M106.5,938L95.4,921.7" fill="none" stroke="#4a4a4a" stroke-width="0.8" stroke-dasharray="1.2 1.6"/>
<path d="M95.4,921.7L293.1,921.9M106.4,905.3L282.1,905.6M117.3,889L271,889.2M128.3,872.7L260,872.9M161.1,823.7L227,823.8M183,791L204.9,791.1" fill="none" stroke="#9a9a9a" stroke-width="0.8" stroke-dasharray="1.2 1.6"/>
<path d="M139.2,856.4L249,856.5M150.1,840L238,840.1M172,807.4L215.9,807.4" fill="none" stroke="#2e2e2e" stroke-width="0.9" stroke-dasharray="1.2 1.6"/>
<polyline points="301.4,937.3 294.6,927 287.9,917.4 279,905 270.9,895 263.9,888 256.9,881 247.5,875.2 237.3,871.5 222,872.3 211,873.4 202.3,871.9 192.4,869.7 182.6,869.3 169.4,870.4 160.7,871.9 152.4,876.4 137.8,891.5 125,904.4 101.6,924.2 85.3,937.7" fill="none" stroke="#262626" stroke-width="1.15" stroke-linejoin="round"/>
<path d="M84.5,938L193.9,774.7L304.1,938.3" fill="none" stroke="#333" stroke-width="1.35" stroke-linejoin="miter"/>
<path d="M84.5,938.6L304.1,938.9" fill="none" stroke="#b0b0b0" stroke-width="2"/>
<path d="M293.1,921.9L298.1,921.9M183,791L180.9,788M106.5,938L104.4,941.1M282.1,905.6L287.1,905.6M172,807.4L170,804.4M128.4,938.1L126.4,941.1M271,889.2L276,889.2M161.1,823.7L159.1,820.7M150.4,938.1L148.3,941.2M260,872.9L265,872.9M150.1,840L148.1,837M172.3,938.1L170.3,941.2M249,856.5L254,856.5M139.2,856.4L137.2,853.4M194.3,938.1L192.2,941.2M238,840.1L243,840.1M128.3,872.7L126.2,869.7M216.3,938.2L214.2,941.3M227,823.8L232,823.8M117.3,889L115.3,886M238.2,938.2L236.2,941.3M215.9,807.4L220.9,807.4M106.4,905.3L104.4,902.4M260.2,938.2L258.1,941.3M204.9,791.1L209.9,791.1M95.4,921.7L93.4,918.7M282.1,938.3L280.1,941.3" fill="none" stroke="#333" stroke-width="0.75"/>
<text transform="translate(298.2,923.4) scale(1,0.86)" text-anchor="start" class="tk">10</text>
<text transform="translate(178.7,786.9) scale(1,0.86)" text-anchor="middle" class="tk">10</text>
<text transform="translate(102.9,946.5) scale(1,0.86)" text-anchor="middle" class="tk">10</text>
<text transform="translate(287.2,907.1) scale(1,0.86)" text-anchor="start" class="tk">20</text>
<text transform="translate(167.8,803.3) scale(1,0.86)" text-anchor="middle" class="tk">20</text>
<text transform="translate(124.9,946.5) scale(1,0.86)" text-anchor="middle" class="tk">20</text>
<text transform="translate(276.1,890.7) scale(1,0.86)" text-anchor="start" class="tk">30</text>
<text transform="translate(156.9,819.6) scale(1,0.86)" text-anchor="middle" class="tk">30</text>
<text transform="translate(146.8,946.6) scale(1,0.86)" text-anchor="middle" class="tk">30</text>
<text transform="translate(265.1,874.4) scale(1,0.86)" text-anchor="start" class="tk">40</text>
<text transform="translate(145.9,835.9) scale(1,0.86)" text-anchor="middle" class="tk">40</text>
<text transform="translate(168.8,946.6) scale(1,0.86)" text-anchor="middle" class="tk">40</text>
<text transform="translate(254.1,858) scale(1,0.86)" text-anchor="start" class="tk">50</text>
<text transform="translate(135,852.3) scale(1,0.86)" text-anchor="middle" class="tk">50</text>
<text transform="translate(190.7,946.6) scale(1,0.86)" text-anchor="middle" class="tk">50</text>
<text transform="translate(243.1,841.6) scale(1,0.86)" text-anchor="start" class="tk">60</text>
<text transform="translate(124,868.6) scale(1,0.86)" text-anchor="middle" class="tk">60</text>
<text transform="translate(212.7,946.7) scale(1,0.86)" text-anchor="middle" class="tk">60</text>
<text transform="translate(232.1,825.3) scale(1,0.86)" text-anchor="start" class="tk">70</text>
<text transform="translate(113.1,884.9) scale(1,0.86)" text-anchor="middle" class="tk">70</text>
<text transform="translate(234.7,946.7) scale(1,0.86)" text-anchor="middle" class="tk">70</text>
<text transform="translate(221,808.9) scale(1,0.86)" text-anchor="start" class="tk">80</text>
<text transform="translate(102.2,901.3) scale(1,0.86)" text-anchor="middle" class="tk">80</text>
<text transform="translate(256.6,946.7) scale(1,0.86)" text-anchor="middle" class="tk">80</text>
<text transform="translate(210,792.6) scale(1,0.86)" text-anchor="start" class="tk">90</text>
<text transform="translate(91.2,917.6) scale(1,0.86)" text-anchor="middle" class="tk">90</text>
<text transform="translate(278.6,946.7) scale(1,0.86)" text-anchor="middle" class="tk">90</text>
<rect x="82" y="935.5" width="6.6" height="5" fill="none" stroke="#74ae74" stroke-width="1"/>
<rect x="98.5" y="922.1" width="6.6" height="5" fill="none" stroke="#74ae74" stroke-width="1"/>
<rect x="121.7" y="901.9" width="6.6" height="5" fill="none" stroke="#74ae74" stroke-width="1"/>
<rect x="134.5" y="889.3" width="6.6" height="5" fill="none" stroke="#74ae74" stroke-width="1"/>
<rect x="149.1" y="873.9" width="6.6" height="5" fill="none" stroke="#74ae74" stroke-width="1"/>
<rect x="166.8" y="868.1" width="6.6" height="5" fill="none" stroke="#74ae74" stroke-width="1"/>
<rect x="189.1" y="867.9" width="6.6" height="5" fill="none" stroke="#74ae74" stroke-width="1"/>
<rect x="208.2" y="871.6" width="6.6" height="5" fill="none" stroke="#74ae74" stroke-width="1"/>
<rect x="233.6" y="869.4" width="6.6" height="5" fill="none" stroke="#74ae74" stroke-width="1"/>
<rect x="260.6" y="885.5" width="6.6" height="5" fill="none" stroke="#74ae74" stroke-width="1"/>
<rect x="275.7" y="902.5" width="6.6" height="5" fill="none" stroke="#74ae74" stroke-width="1"/>
<rect x="299.1" y="935.7" width="6.6" height="5" fill="none" stroke="#74ae74" stroke-width="1"/>
<text transform="translate(56.2,941.5) scale(1,0.86)" class="cl" style="font-size:9.36px">Water</text>
<text transform="translate(309.6,941.5) scale(1,0.86)" class="cl" style="font-size:8.97px">Oil</text>
<text transform="translate(175.1,770.8) scale(1,0.86)" class="cl" style="font-size:9.35px">Smix(1:1)</text>
<rect x="260.6" y="801.8" width="35.8" height="9.2" fill="#fff" stroke="#8a8a8a" stroke-width="1"/>
<rect x="262.7" y="803.3" width="14" height="6.2" fill="#e6e6fa"/>
<text transform="translate(279.4,810.2) scale(1,0.86)" class="cl" style="font-size:10.32px">ME</text>
<polygon points="510,773.2 619.6,936.4 617.4,936 611.3,927 605.3,918.6 594.4,903.4 584.7,893.3 576.5,886.3 566,871.7 556.7,861.8 544.2,856.1 529.4,854.9 514.5,854.9 504.5,856.9 494.6,862.3 485.9,869.3 475,875.2 465.1,882.2 454,889.8 441.1,902 418.4,922.5 401.4,936.5 400.9,936.2" fill="#e6e6fa" stroke="none"/>
<path d="M422.8,936.2L521,789.5M597.7,936.4L499.1,789.5M444.6,936.2L531.9,805.8M575.9,936.4L488.2,805.8M466.5,936.3L542.9,822.2M554,936.3L477.3,822.1M488.4,936.3L553.8,838.5M532.1,936.3L466.4,838.4M510.2,936.3L564.8,854.8M510.2,936.3L455.4,854.7M532.1,936.3L575.8,871.1M488.4,936.3L444.5,871M554,936.3L586.7,887.4M466.5,936.3L433.6,887.3M575.9,936.4L597.7,903.8M444.6,936.2L422.7,903.6M597.7,936.4L608.6,920.1M422.8,936.2L411.8,919.9" fill="none" stroke="#4a4a4a" stroke-width="0.8" stroke-dasharray="1.2 1.6"/>
<path d="M411.8,919.9L608.6,920.1M433.6,887.3L586.7,887.4" fill="none" stroke="#9a9a9a" stroke-width="0.8" stroke-dasharray="1.2 1.6"/>
<path d="M422.7,903.6L597.7,903.8M444.5,871L575.8,871.1M455.4,854.7L564.8,854.8" fill="none" stroke="#5c5c5c" stroke-width="0.8" stroke-dasharray="1.2 1.6"/>
<path d="M466.4,838.4L553.8,838.5M477.3,822.1L542.9,822.2M488.2,805.8L531.9,805.8M499.1,789.5L521,789.5" fill="none" stroke="#2e2e2e" stroke-width="0.9" stroke-dasharray="1.2 1.6"/>
<polyline points="617.4,936 611.3,927 605.3,918.6 594.4,903.4 584.7,893.3 576.5,886.3 566,871.7 556.7,861.8 544.2,856.1 529.4,854.9 514.5,854.9 504.5,856.9 494.6,862.3 485.9,869.3 475,875.2 465.1,882.2 454,889.8 441.1,902 418.4,922.5 401.4,936.5" fill="none" stroke="#262626" stroke-width="1.15" stroke-linejoin="round"/>
<path d="M400.9,936.2L510,773.2L619.6,936.4" fill="none" stroke="#333" stroke-width="1.35" stroke-linejoin="miter"/>
<path d="M400.9,936.4L619.6,936.6" fill="none" stroke="#777" stroke-width="1.3"/>
<path d="M608.6,920.1L613.6,920.1M499.1,789.5L497.1,786.5M422.8,936.2L420.7,939.3M597.7,903.8L602.7,903.8M488.2,805.8L486.2,802.8M444.6,936.2L442.6,939.3M586.7,887.4L591.7,887.4M477.3,822.1L475.3,819.1M466.5,936.3L464.5,939.3M575.8,871.1L580.8,871.1M466.4,838.4L464.4,835.4M488.4,936.3L486.3,939.4M564.8,854.8L569.8,854.8M455.4,854.7L453.4,851.7M510.2,936.3L508.2,939.4M553.8,838.5L558.8,838.5M444.5,871L442.5,868M532.1,936.3L530.1,939.4M542.9,822.2L547.9,822.2M433.6,887.3L431.6,884.3M554,936.3L551.9,939.4M531.9,805.8L536.9,805.8M422.7,903.6L420.7,900.6M575.9,936.4L573.8,939.4M521,789.5L526,789.5M411.8,919.9L409.8,916.9M597.7,936.4L595.7,939.5" fill="none" stroke="#333" stroke-width="0.75"/>
<text transform="translate(613.7,921.6) scale(1,0.86)" text-anchor="start" class="tk">10</text>
<text transform="translate(494.9,785.4) scale(1,0.86)" text-anchor="middle" class="tk">10</text>
<text transform="translate(419.2,944.7) scale(1,0.86)" text-anchor="middle" class="tk">10</text>
<text transform="translate(602.8,905.3) scale(1,0.86)" text-anchor="start" class="tk">20</text>
<text transform="translate(484,801.7) scale(1,0.86)" text-anchor="middle" class="tk">20</text>
<text transform="translate(441.1,944.7) scale(1,0.86)" text-anchor="middle" class="tk">20</text>
<text transform="translate(591.8,888.9) scale(1,0.86)" text-anchor="start" class="tk">30</text>
<text transform="translate(473.1,818) scale(1,0.86)" text-anchor="middle" class="tk">30</text>
<text transform="translate(463,944.7) scale(1,0.86)" text-anchor="middle" class="tk">30</text>
<text transform="translate(580.9,872.6) scale(1,0.86)" text-anchor="start" class="tk">40</text>
<text transform="translate(462.2,834.3) scale(1,0.86)" text-anchor="middle" class="tk">40</text>
<text transform="translate(484.8,944.8) scale(1,0.86)" text-anchor="middle" class="tk">40</text>
<text transform="translate(569.9,856.3) scale(1,0.86)" text-anchor="start" class="tk">50</text>
<text transform="translate(451.2,850.6) scale(1,0.86)" text-anchor="middle" class="tk">50</text>
<text transform="translate(506.7,944.8) scale(1,0.86)" text-anchor="middle" class="tk">50</text>
<text transform="translate(558.9,840) scale(1,0.86)" text-anchor="start" class="tk">60</text>
<text transform="translate(440.3,866.9) scale(1,0.86)" text-anchor="middle" class="tk">60</text>
<text transform="translate(528.6,944.8) scale(1,0.86)" text-anchor="middle" class="tk">60</text>
<text transform="translate(548,823.7) scale(1,0.86)" text-anchor="start" class="tk">70</text>
<text transform="translate(429.4,883.2) scale(1,0.86)" text-anchor="middle" class="tk">70</text>
<text transform="translate(550.4,944.8) scale(1,0.86)" text-anchor="middle" class="tk">70</text>
<text transform="translate(537,807.3) scale(1,0.86)" text-anchor="start" class="tk">80</text>
<text transform="translate(418.5,899.5) scale(1,0.86)" text-anchor="middle" class="tk">80</text>
<text transform="translate(572.3,944.8) scale(1,0.86)" text-anchor="middle" class="tk">80</text>
<text transform="translate(526.1,791) scale(1,0.86)" text-anchor="start" class="tk">90</text>
<text transform="translate(407.6,915.8) scale(1,0.86)" text-anchor="middle" class="tk">90</text>
<text transform="translate(594.2,944.9) scale(1,0.86)" text-anchor="middle" class="tk">90</text>
<rect x="398.1" y="934" width="6.6" height="5" fill="none" stroke="#74ae74" stroke-width="1"/>
<rect x="415.1" y="920" width="6.6" height="5" fill="none" stroke="#74ae74" stroke-width="1"/>
<rect x="437.8" y="899.5" width="6.6" height="5" fill="none" stroke="#74ae74" stroke-width="1"/>
<rect x="450.7" y="887.3" width="6.6" height="5" fill="none" stroke="#74ae74" stroke-width="1"/>
<rect x="473.4" y="872.2" width="6.6" height="5" fill="none" stroke="#74ae74" stroke-width="1"/>
<rect x="482.6" y="866" width="6.6" height="5" fill="none" stroke="#74ae74" stroke-width="1"/>
<rect x="501.2" y="854.4" width="6.6" height="5" fill="none" stroke="#74ae74" stroke-width="1"/>
<rect x="525.9" y="852.5" width="6.6" height="5" fill="none" stroke="#74ae74" stroke-width="1"/>
<rect x="553.3" y="859" width="6.6" height="5" fill="none" stroke="#74ae74" stroke-width="1"/>
<rect x="573.2" y="883.9" width="6.6" height="5" fill="none" stroke="#74ae74" stroke-width="1"/>
<rect x="591.3" y="900.7" width="6.6" height="5" fill="none" stroke="#74ae74" stroke-width="1"/>
<rect x="614" y="933.5" width="6.6" height="5" fill="none" stroke="#74ae74" stroke-width="1"/>
<ellipse cx="464.8" cy="862.8" rx="3" ry="2.8" fill="#000"/>
<ellipse cx="461.3" cy="867.8" rx="3" ry="2.8" fill="#000"/>
<ellipse cx="458.6" cy="871.2" rx="3" ry="2.8" fill="#000"/>
<text transform="translate(372.7,939.7) scale(1,0.86)" class="cl" style="font-size:9.32px">Water</text>
<text transform="translate(624.7,939.7) scale(1,0.86)" class="cl" style="font-size:9.14px">Oil</text>
<text transform="translate(490.8,769) scale(1,0.86)" class="cl" style="font-size:9.23px">Smix(1:2)</text>
<rect x="575.9" y="800.1" width="36.3" height="8.9" fill="#fff" stroke="#8a8a8a" stroke-width="1"/>
<rect x="578.3" y="801.6" width="14" height="7" fill="#e6e6fa"/>
<text transform="translate(595.5,808.2) scale(1,0.86)" class="cl" style="font-size:9.82px">ME</text>
<text transform="translate(131.3,35.4) scale(1,0.883)" class="ti" style="font-size:14.93px">OAO ME Smix (1:1)</text>
<text transform="translate(444.1,33.6) scale(1,0.859)" class="ti" style="font-size:16.58px">OAO ME Smix (1:2)</text>
<text transform="translate(133.4,267.3) scale(1,0.819)" class="ti" style="font-size:16.28px">ECO ME Smix (1:1)</text>
<text transform="translate(136.3,500.6) scale(1,0.893)" class="ti" style="font-size:15.43px">TTO ME Smix (1:1)</text>
<text transform="translate(446.3,497.3) scale(1,0.883)" class="ti" style="font-size:15.62px">TTO ME Smix (1:2)</text>
<text transform="translate(134.3,733.4) scale(1,0.897)" class="ti" style="font-size:15.54px">LO ME Smix (1:1)</text>
<text transform="translate(450.9,731.7) scale(1,0.903)" class="ti" style="font-size:15.44px">LO ME Smix (1:2)</text>
<text transform="translate(266.6,648.6) scale(1,0.86)" class="tk" style="fill:#9cc89c">10</text>
<text transform="translate(586.3,647.4) scale(1,0.86)" class="tk" style="fill:#8fc0a8">10</text>
<text x="14.5" y="39" class="le" style="font-size:27.9px" textLength="18.6" lengthAdjust="spacingAndGlyphs">A</text>
<text x="14.8" y="274.9" class="le" style="font-size:28px" textLength="18.5" lengthAdjust="spacingAndGlyphs">B</text>
<text x="14.8" y="507.7" class="le" style="font-size:28.5px" textLength="21.7" lengthAdjust="spacingAndGlyphs">C</text>
<text x="17.4" y="742.5" class="le" style="font-size:27.3px" textLength="20.3" lengthAdjust="spacingAndGlyphs">D</text>
</svg>
</body></html>
